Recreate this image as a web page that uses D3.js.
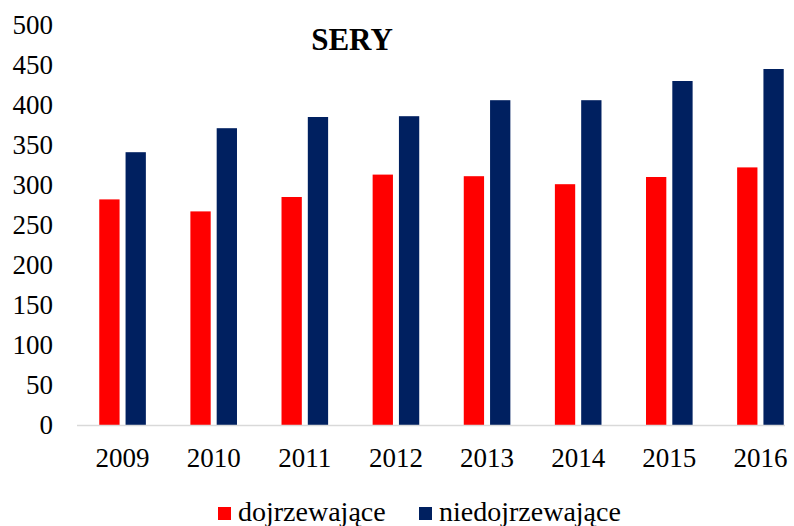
<!DOCTYPE html>
<html>
<head>
<meta charset="utf-8">
<script src="https://cdn.jsdelivr.net/npm/d3@7"></script>
<style>
  body { margin: 0; background: #fff; }
  svg text { font-family: "Liberation Serif", serif !important; fill: #000; }
</style>
</head>
<body>
<div id="chart"></div>
<script>
// data
var years = ["2009", "2010", "2011", "2012", "2013", "2014", "2015", "2016"];
var dojrzewajace = [282, 267, 285, 313, 311, 301, 310, 322];
var niedojrzewajace = [341, 371, 385, 386, 406, 406, 430, 445];
var seriesNames = ["dojrzewające", "niedojrzewające"];
var seriesColors = ["#FF0000", "#002060"];
var yTicks = [0, 50, 100, 150, 200, 250, 300, 350, 400, 450, 500];

var width = 794, height = 526;

var svg = d3.select("#chart")
  .append("svg")
  .attr("width", width)
  .attr("height", height)
  .attr("font-family", "Liberation Serif, serif");

var x0 = d3.scaleBand()
  .domain(years)
  .range([77, 806])
  .padding(0);

var x1 = d3.scaleBand()
  .domain(seriesNames)
  .range([x0.bandwidth() / 2 - 23.3, x0.bandwidth() / 2 + 23.3])
  .paddingInner(0.228);

var y = d3.scaleLinear()
  .domain([0, 500])
  .range([425, 25]);

var rows = years.map(function(yr, i) {
  return {year: yr, values: [dojrzewajace[i], niedojrzewajace[i]]};
});

// bars
var groups = svg.selectAll("g.year")
  .data(rows)
  .enter()
  .append("g")
  .attr("class", "year")
  .attr("transform", function(d) { return "translate(" + x0(d.year) + ",0)"; });

groups.selectAll("rect")
  .data(function(d) { return d.values.map(function(v, j) { return {name: seriesNames[j], value: v, color: seriesColors[j]}; }); })
  .enter()
  .append("rect")
  .attr("x", function(d) { return x1(d.name); })
  .attr("width", x1.bandwidth())
  .attr("y", function(d) { return y(d.value); })
  .attr("height", function(d) { return y(0) - y(d.value); })
  .attr("fill", function(d) { return d.color; });

// y axis labels (no line)
var yAxis = d3.axisLeft(y).tickValues(yTicks).tickSize(0).tickPadding(0);
var yg = svg.append("g")
  .attr("transform", "translate(53,0)")
  .call(yAxis)
  .attr("font-family", null)
  .attr("font-size", 27);
yg.select(".domain").remove();
yg.selectAll("text").attr("fill", "#000");

// x axis baseline + labels
var xAxis = d3.axisBottom(x0).tickSize(0).tickPadding(0);
var xg = svg.append("g")
  .attr("transform", "translate(0," + y(0) + ")")
  .call(xAxis)
  .attr("font-family", null)
  .attr("font-size", 27);
xg.select(".domain").remove();
xg.selectAll("text")
  .attr("dy", null)
  .attr("y", 42)
  .attr("fill", "#000");

svg.append("line")
  .attr("x1", 77)
  .attr("x2", 785)
  .attr("y1", y(0) + 0.5)
  .attr("y2", y(0) + 0.5)
  .attr("stroke", "#D9D9D9")
  .attr("stroke-width", 1.5);

// title
svg.append("text")
  .attr("x", 352)
  .attr("y", 50)
  .attr("text-anchor", "middle")
  .attr("font-size", 31)
  .attr("font-weight", "bold")
  .text("SERY");

// legend
var legendX = [218, 419];
var legend = svg.selectAll("g.legend")
  .data(seriesNames)
  .enter()
  .append("g")
  .attr("class", "legend")
  .attr("transform", function(d, i) { return "translate(" + legendX[i] + ",0)"; });

legend.append("rect")
  .attr("x", 0)
  .attr("y", 507)
  .attr("width", 13)
  .attr("height", 13)
  .attr("fill", function(d, i) { return seriesColors[i]; });

legend.append("text")
  .attr("x", 20)
  .attr("y", 521)
  .attr("font-size", 28)
  .text(function(d) { return d; });
</script>
</body>
</html>
